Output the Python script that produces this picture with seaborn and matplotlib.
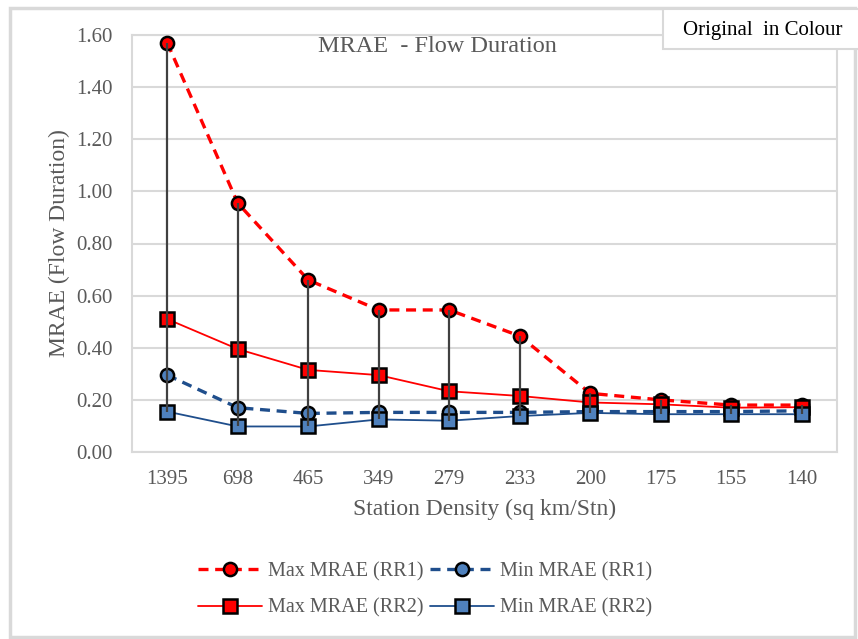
import matplotlib
matplotlib.use("Agg")
import matplotlib.pyplot as plt
from matplotlib.patches import Rectangle
import seaborn as sns
import pandas as pd
import numpy as np

# Station density categories (sq km per station)
densities = ["1395", "698", "465", "349", "279", "233", "200", "175", "155", "140"]

# MRAE of flow duration for each scenario
max_rr1 = [1.57, 0.955, 0.66, 0.545, 0.545, 0.445, 0.225, 0.200, 0.180, 0.180]
min_rr1 = [0.295, 0.170, 0.148, 0.152, 0.152, 0.152, 0.155, 0.155, 0.155, 0.158]
max_rr2 = [0.510, 0.395, 0.315, 0.295, 0.233, 0.215, 0.190, 0.183, 0.170, 0.172]
min_rr2 = [0.155, 0.098, 0.098, 0.125, 0.120, 0.138, 0.150, 0.145, 0.145, 0.145]

sns.set_theme(style="white")
plt.rcParams["font.family"] = ["Liberation Serif", "DejaVu Serif"]

grey_txt = "#595959"
frame_col = "#D9D9D9"
red = "#FF0000"
navy = "#1F4E8C"
steel = "#4F81BD"

fig = plt.figure(figsize=(8.58, 6.39), dpi=100)
ax = fig.add_axes([132 / 858, 1 - 452 / 639, (837 - 132) / 858, (452 - 35) / 639])

pos = np.arange(len(densities))
df = pd.DataFrame({
    "pos": pos,
    "max_rr1": max_rr1,
    "min_rr1": min_rr1,
    "max_rr2": max_rr2,
    "min_rr2": min_rr2,
})

# high-low connectors between the largest and smallest series
ax.vlines(df["pos"], df["min_rr2"], df["max_rr1"], color="#404040", lw=1.6, zorder=6)

series = [
    ("max_rr1", "Max MRAE (RR1)", red, red, "o", (0, (3.0, 2.0)), 2.4, 9.5),
    ("max_rr2", "Max MRAE (RR2)", red, red, "s", "-", 1.3, 9.5),
    ("min_rr1", "Min MRAE (RR1)", navy, steel, "o", (0, (3.0, 2.0)), 2.4, 9.5),
    ("min_rr2", "Min MRAE (RR2)", navy, steel, "s", "-", 1.3, 9.5),
]
zorders = {"max_rr1": 3, "max_rr2": 4, "min_rr1": 3, "min_rr2": 5}
handles = []
for col, label, lc, fc, mk, ls, lw, ms in series:
    sns.lineplot(data=df, x="pos", y=col, ax=ax, color=lc, linestyle=ls, lw=lw,
                 marker=mk, markersize=ms, markerfacecolor=fc,
                 markeredgecolor="black", markeredgewidth=1.8,
                 label=label, zorder=zorders[col], legend=False)
    handles.append(ax.lines[-1])

ax.set_xlim(-0.5, len(densities) - 0.5)
ax.set_ylim(0, 1.6)
ax.set_yticks(np.arange(0, 1.61, 0.2))
ax.set_yticklabels([f"{v:.2f}" for v in np.arange(0, 1.61, 0.2)])
ax.set_xticks(pos)
ax.set_xticklabels(densities)
ax.tick_params(axis="both", length=0, labelsize=15, labelcolor=grey_txt)
ax.tick_params(axis="y", pad=14)
ax.tick_params(axis="x", pad=13)
ax.yaxis.grid(True, color=frame_col, lw=1.5)
ax.xaxis.grid(False)
for s in ax.spines.values():
    s.set_visible(True)
    s.set_color(frame_col)
    s.set_linewidth(1.5)

ax.set_xlabel("Station Density (sq km/Stn)", fontsize=17, color=grey_txt, labelpad=7)
ax.set_ylabel("MRAE (Flow Duration)", fontsize=17, color=grey_txt, labelpad=4)
fig.text(437 / 858, 1 - 52 / 639, "MRAE  - Flow Duration", ha="center",
         va="baseline", fontsize=17.5, color=grey_txt)

fig.legend(handles=handles, labels=[h.get_label() for h in handles], ncol=2,
           loc="center", bbox_to_anchor=(425 / 858, 1 - 590 / 639), frameon=False,
           fontsize=14.5, labelcolor=grey_txt, handlelength=3.2, handletextpad=0.3,
           columnspacing=0.3, labelspacing=0.85)

# outer chart frame
fig.patches.append(Rectangle((10 / 858, 1 - 637 / 639), (855 - 10) / 858, (637 - 8) / 639,
                             transform=fig.transFigure, fill=False, ec=frame_col, lw=2.5))
# note box in the upper right corner
fig.patches.append(Rectangle((663 / 858, 1 - 49 / 639), (860 - 663) / 858, (49 - 9) / 639,
                             transform=fig.transFigure, fc="white", ec=frame_col, lw=1.5,
                             zorder=10))
fig.text(763 / 858, 1 - 30 / 639, "Original  in Colour", ha="center", va="center",
         fontsize=15, color="black", zorder=11)

fig.savefig("out.png", dpi=100)
